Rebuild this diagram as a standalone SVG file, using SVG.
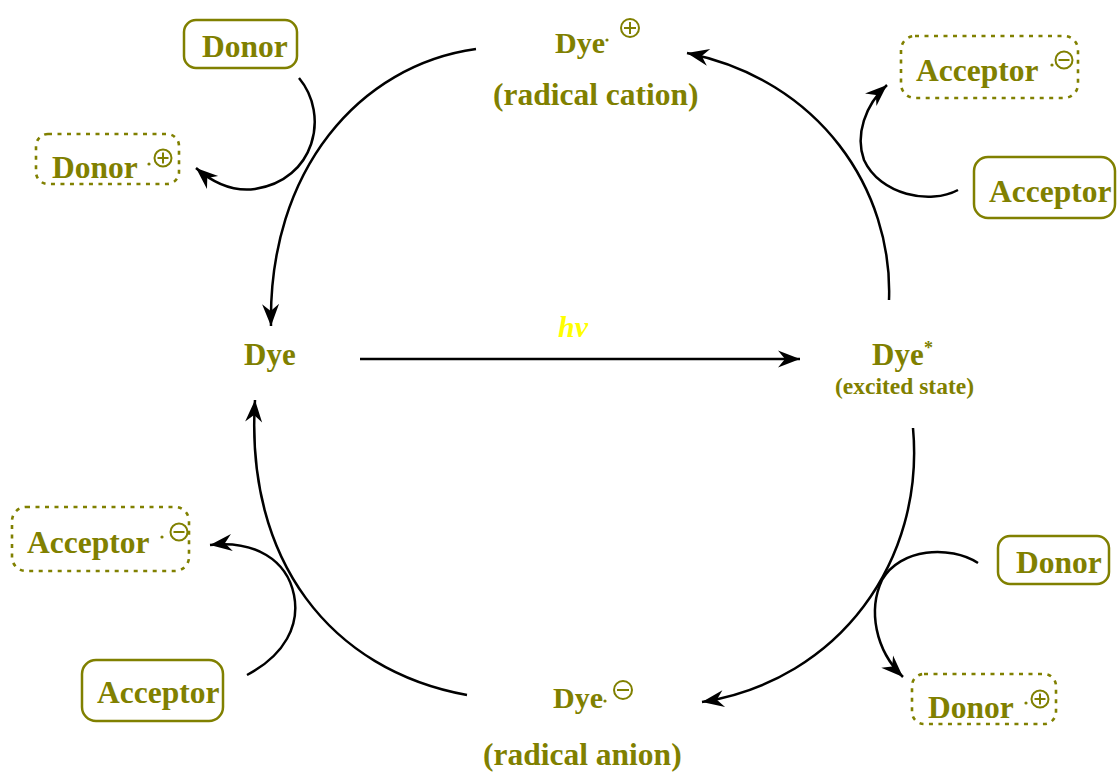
<svg xmlns="http://www.w3.org/2000/svg" width="1117" height="772" viewBox="0 0 1117 772">
<defs>
<style>
.t{font-family:"Liberation Serif","Times New Roman",serif;font-weight:bold;fill:#808000;}
.b{fill:none;stroke:#808000;stroke-width:2.5;}
.d{fill:none;stroke:#808000;stroke-width:2.6;stroke-dasharray:4 5.5;}
.c{fill:none;stroke:#000;stroke-width:2.5;marker-end:url(#ah);}
.sym{fill:none;stroke:#808000;stroke-width:2;}
.dot{fill:#808000;}
</style>
<marker id="ah" viewBox="-24 -10 26 20" refX="0" refY="0" markerWidth="26" markerHeight="20" markerUnits="userSpaceOnUse" orient="auto">
<path d="M0,0 L-22,-8.5 L-15,0 L-22,8.5 Z" fill="#000"/>
</marker>
</defs>
<rect width="1117" height="772" fill="#fff"/>

<g id="connectors">
<path class="c" d="M360,359 L800,359"/>
<path class="c" d="M476,49 C360,65 268,170 271,326"/>
<path class="c" d="M889,300 C893,190 820,80 687,53"/>
<path class="c" d="M913,428 C925,560 840,680 702,702"/>
<path class="c" d="M467,695 C330,670 245,560 255,400"/>
<path class="c" d="M299,78 C330,115 315,180 255,189 C232,192 212,182 196,168"/>
<path class="c" d="M958,190 C930,205 880,195 864,160 C855,135 865,105 887,85"/>
<path class="c" d="M247,675 C285,655 300,625 294,595 C287,560 255,540 210,545"/>
<path class="c" d="M978,563 C950,545 900,548 882,580 C868,610 875,650 903,677"/>
</g>

<g id="hv"><text class="t" x="558" y="337" font-size="30" font-style="italic" style="fill:#ffff00">hv</text></g>

<g id="dye"><text class="t" x="244" y="365" font-size="31">Dye</text></g>

<g id="dye-excited">
<text class="t" x="872" y="365" font-size="31">Dye</text>
<text class="t" x="924" y="354" font-size="18">*</text>
<text class="t" x="835" y="394" font-size="23.5">(excited state)</text>
</g>

<g id="dye-cation">
<text class="t" x="555" y="53" font-size="30">Dye</text>
<circle class="dot" cx="607" cy="40" r="1.6"/>
<circle class="sym" cx="630" cy="28" r="9"/>
<path class="sym" d="M624,28 H636 M630,22 V34"/>
<text class="t" x="493" y="105" font-size="31.5">(radical cation)</text>
</g>

<g id="dye-anion">
<text class="t" x="553" y="708" font-size="30">Dye</text>
<circle class="dot" cx="605" cy="701" r="1.6"/>
<circle class="sym" cx="623" cy="690" r="9"/>
<path class="sym" d="M617,690 H629"/>
<text class="t" x="483" y="765" font-size="31.5">(radical anion)</text>
</g>

<g id="donor-top">
<rect class="b" x="184" y="20" width="113" height="48" rx="12"/>
<text class="t" x="202" y="57" font-size="31.5">Donor</text>
</g>

<g id="donor-cation-top">
<rect class="d" x="36" y="134" width="143" height="50" rx="12"/>
<text class="t" x="52" y="178" font-size="31.5">Donor</text>
<circle class="dot" cx="149" cy="164" r="1.6"/>
<circle class="sym" cx="163" cy="158" r="8.5"/>
<path class="sym" d="M157.5,158 H168.5 M163,152.5 V163.5"/>
</g>

<g id="acceptor-anion-top">
<rect class="d" x="901" y="36" width="177" height="62" rx="14"/>
<text class="t" x="916" y="81" font-size="31.5">Acceptor</text>
<circle class="dot" cx="1052" cy="65" r="1.6"/>
<circle class="sym" cx="1064" cy="60" r="8.5"/>
<path class="sym" d="M1058.5,60 H1069.5"/>
</g>

<g id="acceptor-right">
<rect class="b" x="974" y="157" width="141" height="61" rx="14"/>
<text class="t" x="989" y="202" font-size="31.5">Acceptor</text>
</g>

<g id="acceptor-anion-left">
<rect class="d" x="12" y="507" width="177" height="64" rx="14"/>
<text class="t" x="27" y="553" font-size="31.5">Acceptor</text>
<circle class="dot" cx="162" cy="537" r="1.6"/>
<circle class="sym" cx="179" cy="532" r="8.5"/>
<path class="sym" d="M173.5,532 H184.5"/>
</g>

<g id="acceptor-left">
<rect class="b" x="82" y="660" width="141" height="61" rx="14"/>
<text class="t" x="97" y="703" font-size="31.5">Acceptor</text>
</g>

<g id="donor-bottom">
<rect class="b" x="998" y="536" width="111" height="48" rx="12"/>
<text class="t" x="1016" y="573" font-size="31.5">Donor</text>
</g>

<g id="donor-cation-bottom">
<rect class="d" x="912" y="674" width="144" height="50" rx="12"/>
<text class="t" x="928" y="718" font-size="31.5">Donor</text>
<circle class="dot" cx="1026" cy="703" r="1.6"/>
<circle class="sym" cx="1040" cy="699" r="8.5"/>
<path class="sym" d="M1034.5,699 H1045.5 M1040,693.5 V704.5"/>
</g>
</svg>
